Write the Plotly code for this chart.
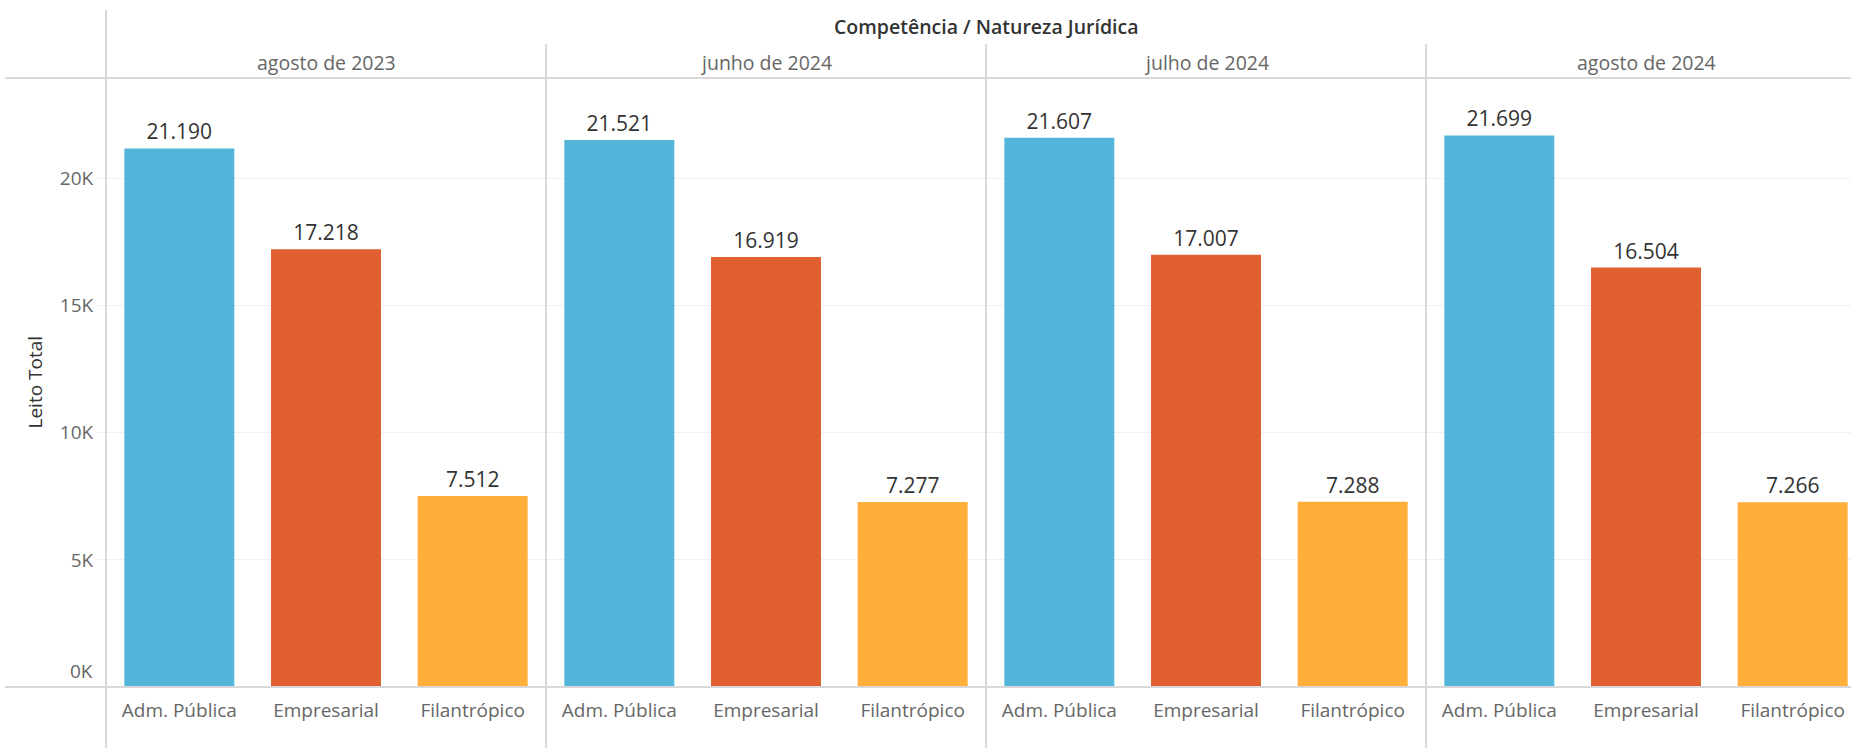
import plotly.graph_objects as go

# ---- data ----
competencias = ["agosto de 2023", "junho de 2024", "julho de 2024", "agosto de 2024"]
naturezas = ["Adm. Pública", "Empresarial", "Filantrópico"]
adm_publica = [21190, 21521, 21607, 21699]
empresarial = [17218, 16919, 17007, 16504]
filantropico = [7512, 7277, 7288, 7266]
y_tick_vals = [0, 5000, 10000, 15000, 20000]
y_tick_text = ["0K", "5K", "10K", "15K", "20K"]

colors = ["#52B5D9", "#E06032", "#FFAE3A"]

FONT = "Open Sans"
W, H = 1851, 748
L, R, T, B = 106, 0, 78, 61
PW = 440.0                      # panel width in px
plot_w = W - L - R
plot_h = H - T - B


def px_x(x):
    return (x - L) / plot_w


def px_y(y):
    return (H - B - y) / plot_h


def fmt(v):
    return f"{v:,}".replace(",", ".")


fig = go.Figure()
n = len(competencias)
for i in range(n):
    vals = [adm_publica[i], empresarial[i], filantropico[i]]
    ax = "" if i == 0 else str(i + 1)
    fig.add_trace(go.Bar(
        x=naturezas, y=vals,
        marker=dict(color=colors, line=dict(width=0)),
        width=0.75,
        text=[fmt(v) for v in vals],
        textposition="outside",
        textfont=dict(family=FONT, size=21, color="#333333"),
        cliponaxis=False,
        xaxis="x" + ax, yaxis="y",
        showlegend=False,
        hoverinfo="x+y",
    ))
    d0 = i * PW / plot_w
    d1 = min((i + 1) * PW / plot_w, 1.0)
    visible_px = (d1 - d0) * plot_w
    rng = [-0.5, -0.5 + 3 * visible_px / PW]
    fig.layout["xaxis" + ax] = dict(
        domain=[d0, d1], anchor="y", range=rng,
        showgrid=False, zeroline=False, showline=False,
        ticks="", ticklabelstandoff=10,
        tickfont=dict(family=FONT, size=19, color="#666666"),
        fixedrange=True,
    )
    # sub header
    fig.add_annotation(
        xref="paper", yref="paper",
        x=px_x(L + i * PW + PW / 2), y=px_y(62),
        text=competencias[i], showarrow=False,
        xanchor="center", yanchor="middle",
        font=dict(family=FONT, size=19.5, color="#666666"),
    )

fig.update_layout(
    width=W, height=H,
    margin=dict(l=L, r=R, t=T, b=B, pad=0),
    plot_bgcolor="white", paper_bgcolor="white",
    bargap=0.25,
    yaxis=dict(
        range=[0, 23960], tickvals=y_tick_vals[1:], ticktext=y_tick_text[1:],
        showgrid=True, gridcolor="#F0F0F0", gridwidth=1,
        zeroline=False, showline=False,
        ticks="outside", ticklen=8, tickcolor="#F0F0F0",
        tickfont=dict(family=FONT, size=19, color="#666666"),
        fixedrange=True,
    ),
    font=dict(family=FONT),
)

# 0K label sits just above the baseline, as in the reference
fig.add_annotation(
    xref="paper", yref="y", x=px_x(95), y=y_tick_vals[0],
    text=y_tick_text[0], showarrow=False,
    xanchor="right", yanchor="bottom", yshift=1,
    font=dict(family=FONT, size=19, color="#666666"),
)

# title and y-axis title
fig.add_annotation(
    xref="paper", yref="paper", x=px_x(L + 4 * PW / 2), y=px_y(27),
    text="Competência / Natureza Jurídica", showarrow=False,
    xanchor="center", yanchor="middle",
    font=dict(family=FONT, size=19.5, color="#333333", weight=600),
)
fig.add_annotation(
    xref="paper", yref="paper", x=px_x(34), y=0.5,
    text="Leito Total", showarrow=False, textangle=-90,
    xanchor="center", yanchor="middle",
    font=dict(family=FONT, size=19, color="#333333"),
)

line_style = dict(color="#D9D9D9", width=2)
shapes = []
# left vertical line
shapes.append(dict(type="line", xref="paper", yref="paper",
                   x0=0, x1=0, y0=px_y(10), y1=px_y(H), line=line_style))
# panel separators
for i in range(1, n):
    xx = i * PW / plot_w
    shapes.append(dict(type="line", xref="paper", yref="paper",
                       x0=xx, x1=xx, y0=px_y(44), y1=px_y(H), line=line_style))
# header bottom line and zero line
shapes.append(dict(type="line", xref="paper", yref="paper",
                   x0=px_x(5), x1=1, y0=1, y1=1, line=line_style))
shapes.append(dict(type="line", xref="paper", yref="paper",
                   x0=px_x(5), x1=1, y0=0, y1=0, line=line_style))
fig.update_layout(shapes=shapes)

fig.write_html("out.html", config={"displayModeBar": False},
               post_script="document.body.style.margin='0px';")
